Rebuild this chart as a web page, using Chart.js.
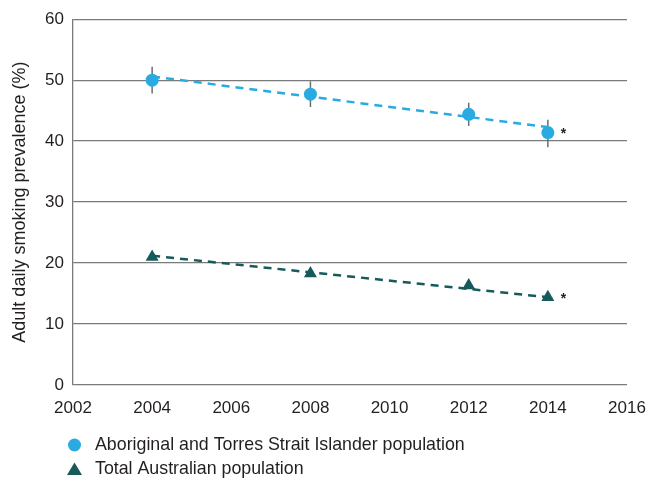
<!DOCTYPE html>
<html>
<head>
<meta charset="utf-8">
<script src="https://cdn.jsdelivr.net/npm/chart.js@4.4.1/dist/chart.umd.min.js"></script>
<style>
  html, body { margin: 0; padding: 0; background: #ffffff; }
  #wrap { width: 648px; height: 480px; position: relative; }
</style>
</head>
<body>
<div id="wrap"><canvas id="c" width="648" height="480"></canvas></div>
<script>
// Survey years
const years = [2004, 2008, 2012, 2014];

// Adult daily smoking prevalence (%)
const indigenous = [50.0, 47.7, 44.4, 41.4];
const indigenousLow = [47.8, 45.6, 42.5, 39.0];
const indigenousHigh = [52.2, 49.8, 46.3, 43.5];
const totalPop = [21.0, 18.3, 16.3, 14.4];

// Linear trend between first and last survey
const trendYears = [2004, 2014];
const indigenousTrend = [50.6, 42.3];
const totalTrend = [21.2, 14.4];

// Axis ticks
const xTicks = [2002, 2004, 2006, 2008, 2010, 2012, 2014, 2016];
const yTicks = [0, 10, 20, 30, 40, 50, 60];

const seriesLabels = ['Aboriginal and Torres Strait Islander population', 'Total Australian population'];
const significance = ['*', '*'];

const BLUE = '#29abe2';
const TEAL = '#165a5c';
const GRID = '#7a7a7a';
const TEXT = '#231f20';
const FONT = "'Liberation Sans', Arial, Helvetica, sans-serif";

const pts = (xs, ys) => xs.map((x, i) => ({ x, y: ys[i] }));

// Vertical confidence-interval bars behind the markers
const errorBars = {
  id: 'errorBars',
  beforeDatasetsDraw(chart) {
    const { ctx, scales: { x, y } } = chart;
    ctx.save();
    ctx.strokeStyle = '#6d6d6d';
    ctx.lineWidth = 1.5;
    years.forEach((yr, i) => {
      const px = x.getPixelForValue(yr);
      ctx.beginPath();
      ctx.moveTo(px, y.getPixelForValue(indigenousLow[i]));
      ctx.lineTo(px, y.getPixelForValue(indigenousHigh[i]));
      ctx.stroke();
    });
    ctx.restore();
  }
};

// Significance asterisks and the two-row legend under the axis
const extras = {
  id: 'extras',
  afterDraw(chart) {
    const { ctx, scales: { x, y } } = chart;
    ctx.save();
    ctx.fillStyle = TEXT;
    ctx.font = `bold 14px ${FONT}`;
    ctx.textAlign = 'left';
    ctx.textBaseline = 'middle';
    const last = years.length - 1;
    const lx = x.getPixelForValue(years[last]) + 13;
    ctx.fillText(significance[0], lx, y.getPixelForValue(indigenous[last]) + 2);
    ctx.fillText(significance[1], lx, y.getPixelForValue(totalPop[last]) + 2);

    // legend
    const mx = 74.5, tx = 95;
    const rows = [445, 469];
    ctx.fillStyle = BLUE;
    ctx.beginPath();
    ctx.arc(mx, rows[0], 6.5, 0, Math.PI * 2);
    ctx.fill();
    ctx.fillStyle = TEAL;
    ctx.beginPath();
    ctx.moveTo(mx, rows[1] - 6.5);
    ctx.lineTo(mx + 7.5, rows[1] + 6);
    ctx.lineTo(mx - 7.5, rows[1] + 6);
    ctx.closePath();
    ctx.fill();
    ctx.fillStyle = TEXT;
    ctx.font = `17.8px ${FONT}`;
    ctx.fillText(seriesLabels[0], tx, rows[0]);
    ctx.fillText(seriesLabels[1], tx, rows[1]);
    ctx.restore();
  }
};

new Chart(document.getElementById('c'), {
  type: 'scatter',
  data: {
    datasets: [
      {
        label: seriesLabels[0] + ' trend',
        data: pts(trendYears, indigenousTrend),
        showLine: true,
        borderColor: BLUE,
        borderWidth: 2.5,
        borderDash: [8, 6],
        pointRadius: 0,
        order: 3
      },
      {
        label: seriesLabels[1] + ' trend',
        data: pts(trendYears, totalTrend),
        showLine: true,
        borderColor: TEAL,
        borderWidth: 2.5,
        borderDash: [8, 6],
        pointRadius: 0,
        order: 3
      },
      {
        label: seriesLabels[0],
        data: pts(years, indigenous),
        showLine: false,
        pointStyle: 'circle',
        pointRadius: 6.5,
        pointBackgroundColor: BLUE,
        pointBorderWidth: 0,
        order: 1
      },
      {
        label: seriesLabels[1],
        data: pts(years, totalPop),
        showLine: false,
        pointStyle: 'triangle',
        pointRadius: 7.5,
        pointBackgroundColor: TEAL,
        pointBorderWidth: 0,
        order: 1
      }
    ]
  },
  options: {
    responsive: false,
    animation: false,
    devicePixelRatio: 1,
    layout: { padding: { left: 0, right: 21, top: 17, bottom: 0 } },
    plugins: {
      legend: { display: false },
      tooltip: { enabled: false }
    },
    scales: {
      x: {
        type: 'linear',
        min: xTicks[0],
        max: xTicks[xTicks.length - 1],
        afterBuildTicks(scale) { scale.ticks = xTicks.map(v => ({ value: v })); },
        afterFit(scale) {
          scale.height = 95;
          scale.paddingLeft = 0;
          scale.paddingRight = 0;
        },
        grid: { display: false, drawTicks: false },
        border: { display: false },
        ticks: {
          padding: 13,
          color: TEXT,
          font: { family: FONT, size: 17 },
          callback: v => String(v)
        }
      },
      y: {
        min: yTicks[0],
        max: yTicks[yTicks.length - 1],
        afterBuildTicks(scale) { scale.ticks = yTicks.map(v => ({ value: v })); },
        afterFit(scale) { scale.width = 73; },
        grid: { color: GRID, lineWidth: 1.3, drawTicks: false },
        border: { display: true, color: GRID, width: 1.3 },
        ticks: {
          padding: 9,
          color: TEXT,
          font: { family: FONT, size: 17 }
        },
        title: {
          display: true,
          text: 'Adult daily smoking prevalence (%)',
          color: TEXT,
          font: { family: FONT, size: 18 },
          padding: { top: 9, bottom: 0 }
        }
      }
    }
  },
  plugins: [errorBars, extras]
});
</script>
</body>
</html>
